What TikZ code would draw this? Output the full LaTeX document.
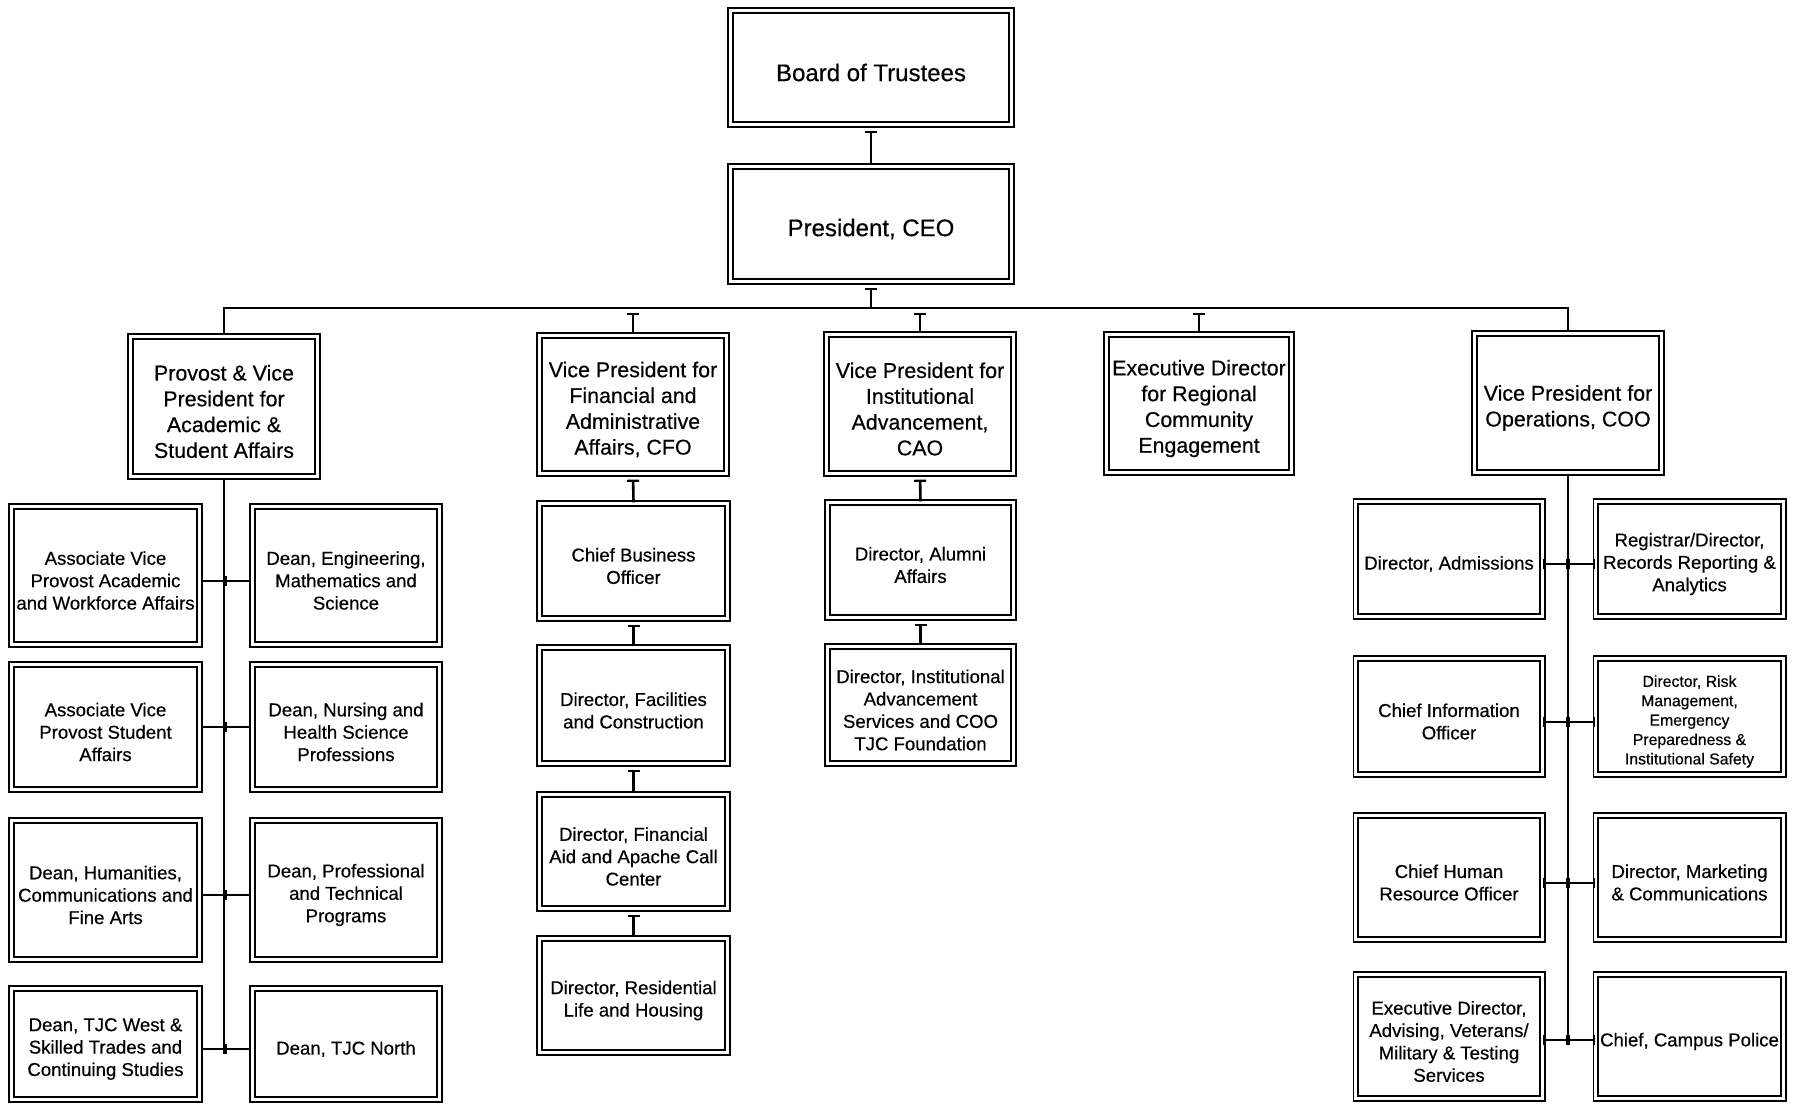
\documentclass[tikz,border=0pt]{standalone}
\usepackage{fontspec}
\setmainfont{Liberation Sans}[BoldFont=Liberation Sans, BoldFeatures={FakeBold=0.45}]
\usetikzlibrary{arrows.meta}
\newcommand\obox[7]{\node[box,minimum width={#4*0.5pt-3.3pt},minimum height={#5*0.5pt-3.3pt},
  label={[#6,align=center,yshift=-2.5pt,inner sep=0pt,text=black]center:{#7}}] (#1) at (#2,#3) {};}
\begin{document}
\begin{tikzpicture}[x=0.5pt,y=-0.5pt,
  box/.style={draw=black, double=white, double distance=1.4pt, line width=0.95pt, inner sep=0pt},
  fA/.style={font=\fontsize{12}{14.4}\selectfont\bfseries},
  fB/.style={font=\fontsize{10.7}{12.9}\selectfont\bfseries},
  fC/.style={font=\fontsize{9.3}{11.2}\selectfont\bfseries},
  fD/.style={font=\fontsize{7.9}{9.7}\selectfont\bfseries},
  vconn/.style={line width=1.3pt, {Bar[width=6pt,line width=1.1pt]}-, shorten <=2.5pt},
  busline/.style={line width=1pt},
  trunk/.style={line width=1.1pt},
  hconn/.style={line width=1.1pt, {Bar[width=5pt,line width=1pt]}-{Bar[width=5pt,line width=1pt]}},
]
\fill[white] (0,0) rectangle (1794,1104);
\useasboundingbox (0,0) rectangle (1794,1104);

% top
\obox{board}{871}{67.5}{288}{121}{fA}{Board of Trustees}
\obox{pres}{871}{224}{288}{122}{fA}{President, CEO}

% level 2
\obox{prov}{224}{406.5}{194}{147}{fB}{Provost \& Vice\\President for\\Academic \&\\Student Affairs}
\obox{vpf}{633}{404.5}{194}{145}{fB}{Vice President for\\Financial and\\Administrative\\Affairs, CFO}
\obox{vpi}{920}{404}{194}{146}{fB}{Vice President for\\Institutional\\Advancement,\\CAO}
\obox{exd}{1199}{403.5}{192}{145}{fB}{Executive Director\\for Regional\\Community\\Engagement}
\obox{vpo}{1568}{403}{194}{146}{fB}{Vice President for\\Operations, COO}

% provost column
\obox{pl1}{105.5}{575.5}{195}{145}{fC}{Associate Vice\\Provost Academic\\and Workforce Affairs}
\obox{pr1}{346}{575.5}{194}{145}{fC}{Dean, Engineering,\\Mathematics and\\Science}
\obox{pl2}{105.5}{727}{195}{132}{fC}{Associate Vice\\Provost Student\\Affairs}
\obox{pr2}{346}{727}{194}{132}{fC}{Dean, Nursing and\\Health Science\\Professions}
\obox{pl3}{105.5}{890}{195}{146}{fC}{Dean, Humanities,\\Communications and\\Fine Arts}
\obox{pr3}{346}{890}{194}{146}{fC}{Dean, Professional\\and Technical\\Programs}
\obox{pl4}{105.5}{1044}{195}{118}{fC}{Dean, TJC West \&\\Skilled Trades and\\Continuing Studies}
\obox{pr4}{346}{1044}{194}{118}{fC}{Dean, TJC North}

% financial column
\obox{cbo}{633.5}{561}{195}{122}{fC}{Chief Business\\Officer}
\obox{fac}{633.5}{705.5}{195}{123}{fC}{Director, Facilities\\and Construction}
\obox{fin}{633.5}{851.5}{195}{121}{fC}{Director, Financial\\Aid and Apache Call\\Center}
\obox{res}{633.5}{995.5}{195}{121}{fC}{Director, Residential\\Life and Housing}

% institutional column
\obox{alu}{920.5}{560}{193}{122}{fC}{Director, Alumni\\Affairs}
\obox{ias}{920.5}{705}{193}{124}{fC}{Director, Institutional\\Advancement\\Services and COO\\TJC Foundation}

% operations column
\obox{ol1}{1449}{559}{193}{122}{fC}{Director, Admissions}
\obox{or1}{1689.5}{559}{194}{122}{fC}{Registrar/Director,\\Records Reporting \&\\Analytics}
\obox{ol2}{1449}{716.5}{193}{123}{fC}{Chief Information\\Officer}
\obox{or2}{1689.5}{716.5}{194}{123}{fD}{Director, Risk\\Management,\\Emergency\\Preparedness \&\\Institutional Safety}
\obox{ol3}{1449}{877.5}{193}{131}{fC}{Chief Human\\Resource Officer}
\obox{or3}{1689.5}{877.5}{194}{131}{fC}{Director, Marketing\\\& Communications}
\obox{ol4}{1449}{1036.5}{193}{131}{fC}{Executive Director,\\Advising, Veterans/\\Military \& Testing\\Services}
\obox{or4}{1689.5}{1036.5}{194}{131}{fC}{Chief, Campus Police}

% bus
\coordinate (bus) at (0,308);
\draw[vconn] (board.south) -- (pres.north);
\draw[vconn] (pres.south) -- (pres.south |- bus);
\draw[busline] (prov.north) -- (prov.north |- bus) -- (vpo.north |- bus) -- (vpo.north);
\draw[vconn] (vpf.north |- bus) -- (vpf.north);
\draw[vconn] (vpi.north |- bus) -- (vpi.north);
\draw[vconn] (exd.north |- bus) -- (exd.north);

% financial & institutional chains
\draw[vconn] (vpf.south) -- (cbo.north);
\draw[vconn] (cbo.south) -- (fac.north);
\draw[vconn] (fac.south) -- (fin.north);
\draw[vconn] (fin.south) -- (res.north);
\draw[vconn] (vpi.south) -- (alu.north);
\draw[vconn] (alu.south) -- (ias.north);

% provost trunk
\coordinate (p1) at (225,581);
\coordinate (p2) at (225,727);
\coordinate (p3) at (225,895);
\coordinate (p4) at (225,1049);
\draw[trunk] (prov.south) -- (prov.south |- p4);
\foreach \i in {1,2,3,4} {
  \draw[hconn] (p\i) -- (pl\i.east |- p\i);
  \draw[hconn] (p\i) -- (pr\i.west |- p\i);
}

% operations trunk
\coordinate (q1) at (1568,564);
\coordinate (q2) at (1568,722);
\coordinate (q3) at (1568,883);
\coordinate (q4) at (1568,1040);
\draw[trunk] (vpo.south) -- (vpo.south |- q4);
\foreach \i in {1,2,3,4} {
  \draw[hconn] (q\i) -- (ol\i.east |- q\i);
  \draw[hconn] (q\i) -- (or\i.west |- q\i);
}
\end{tikzpicture}
\end{document}
